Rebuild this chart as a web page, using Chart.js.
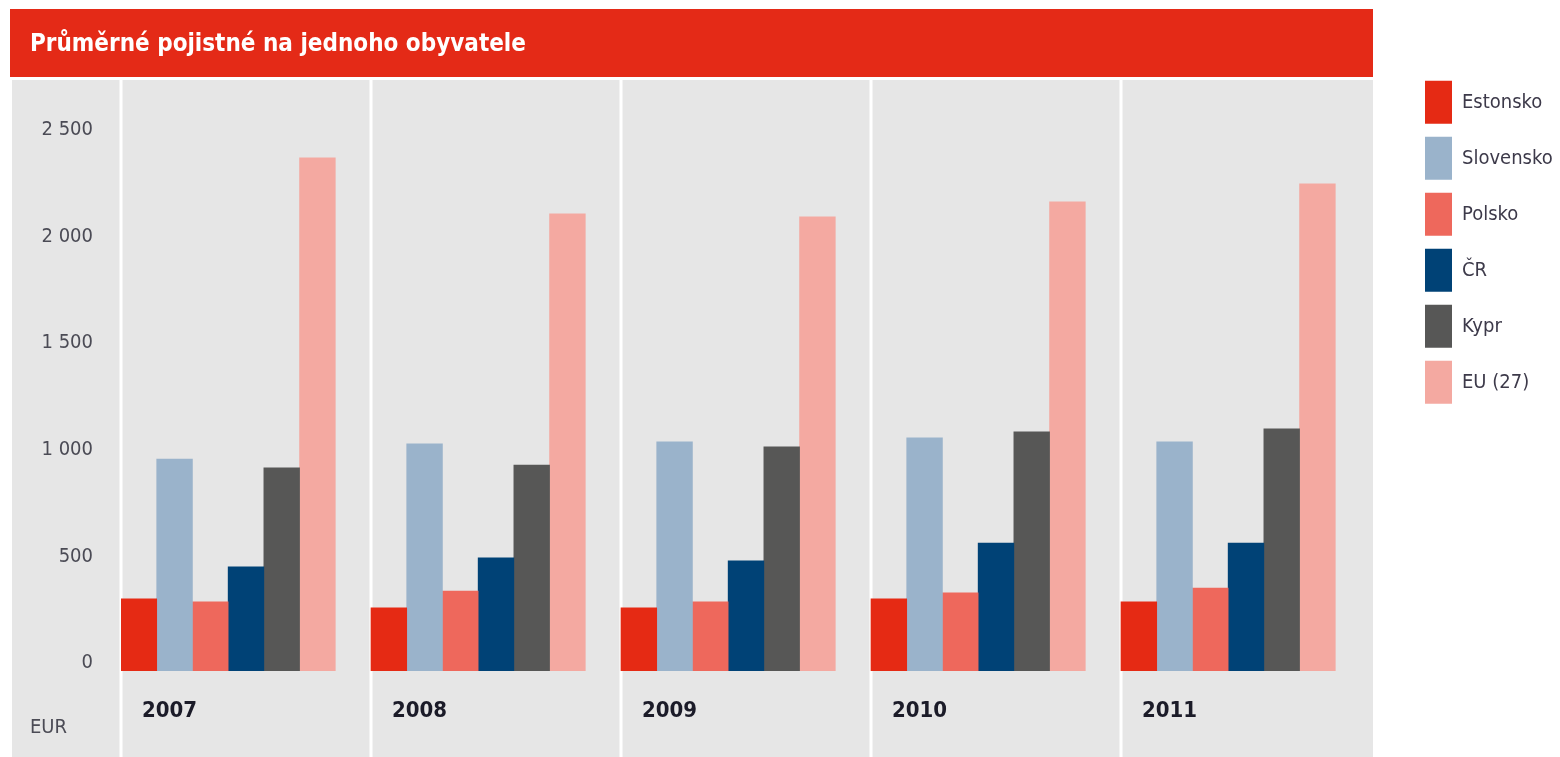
<!DOCTYPE html>
<html>
<head>
<meta charset="utf-8">
<script src="https://cdn.jsdelivr.net/npm/chart.js@4"></script>
<style>
  body { margin: 0; background: #fff; }
</style>
</head>
<body>
<canvas id="myChart" width="1560" height="757"></canvas>
<script>
const years = ['2007', '2008', '2009', '2010', '2011'];
const estonsko = [338, 296, 296, 338, 324];
const slovensko = [994, 1065, 1074, 1093, 1074];
const polsko = [324, 375, 324, 366, 389];
const cr = [488, 530, 516, 600, 600];
const kypr = [952, 966, 1051, 1121, 1135];
const eu = [2406, 2143, 2129, 2200, 2284];
const yTicks = [0, 500, 1000, 1500, 2000, 2500];

const FONT = '"DejaVu Sans Condensed", "Liberation Sans Narrow", "DejaVu Sans", sans-serif';

function formatNum(v) {
    return String(v).replace(/\B(?=(\d{3})+(?!\d))/g, ' ');
}

// gray panel, red title bar and white dividers between the years
const frame = {
    id: 'frame',
    beforeDraw(chart) {
        const {ctx, chartArea, scales: {x}} = chart;
        const right = chartArea.right + 2;
        ctx.save();
        ctx.fillStyle = '#e6e6e6';
        ctx.fillRect(12, 80, right - 12, chart.height - 80);
        ctx.fillStyle = '#e42a17';
        ctx.fillRect(10, 9, right - 10, 68);
        const half = (x.getPixelForValue(1) - x.getPixelForValue(0)) / 2;
        ctx.strokeStyle = '#ffffff';
        ctx.lineWidth = 3;
        for (let i = 0; i < years.length; i++) {
            const px = x.getPixelForValue(i) - half;
            ctx.beginPath();
            ctx.moveTo(px, 80);
            ctx.lineTo(px, chart.height);
            ctx.stroke();
        }
        ctx.restore();
    }
};

const series = [
    {label: 'Estonsko', color: '#e52a14', values: estonsko},
    {label: 'Slovensko', color: '#9ab3cb', values: slovensko},
    {label: 'Polsko', color: '#ee685c', values: polsko},
    {label: 'ČR', color: '#004276', values: cr},
    {label: 'Kypr', color: '#575756', values: kypr},
    {label: 'EU (27)', color: '#f4a9a1', values: eu}
];

const datasets = series.map((s) => ({
    label: s.label,
    data: s.values,
    backgroundColor: s.color,
    borderWidth: 0,
    categoryPercentage: 1,
    barPercentage: 1
}));
// empty slot so the six bars sit at the left of each year
datasets.push({label: '', data: [], categoryPercentage: 1, barPercentage: 1});

const config = {
    type: 'bar',
    data: {labels: years, datasets},
    plugins: [frame],
    options: {
        responsive: false,
        animation: false,
        layout: {padding: {left: 30, top: 0, right: 0, bottom: 0}},
        scales: {
            x: {
                grid: {display: false, drawTicks: false},
                border: {display: false},
                ticks: {
                    align: 'start',
                    labelOffset: -104,
                    padding: 27,
                    color: '#1b1b28',
                    font: {family: FONT, size: 22, weight: 'bold'}
                },
                afterFit(scale) { scale.height = 86; }
            },
            y: {
                min: 0,
                max: 2828,
                grid: {display: false, drawTicks: false},
                border: {display: false},
                afterBuildTicks(scale) { scale.ticks = yTicks.map((v) => ({value: v})); },
                ticks: {
                    padding: 28,
                    labelOffset: -8,
                    color: '#4b4b55',
                    font: {family: FONT, size: 20},
                    callback: (v) => formatNum(v)
                },
                afterFit(scale) { scale.width = 91; }
            },
            y2: {
                position: 'right',
                grid: {display: false, drawTicks: false},
                border: {display: false},
                ticks: {display: false},
                afterFit(scale) { scale.width = 41; }
            }
        },
        plugins: {
            title: {
                display: true,
                text: 'Průměrné pojistné na jednoho obyvatele',
                align: 'start',
                color: '#ffffff',
                font: {family: FONT, size: 24, weight: 'bold'},
                padding: {top: 30, bottom: 9}
            },
            subtitle: {
                display: true,
                position: 'bottom',
                text: 'EUR',
                align: 'start',
                color: '#4b4b55',
                font: {family: FONT, size: 20},
                padding: {top: -41, bottom: 17}
            },
            legend: {
                position: 'right',
                align: 'start',
                fullSize: false,
                maxWidth: 148,
                labels: {
                    boxWidth: 27,
                    boxHeight: 43,
                    padding: 13,
                    color: '#3d3a4a',
                    font: {family: FONT, size: 20},
                    filter: (item) => item.text !== ''
                }
            },
            tooltip: {enabled: false}
        }
    }
};

let myChart = new Chart(document.getElementById('myChart'), config);
</script>
</body>
</html>
